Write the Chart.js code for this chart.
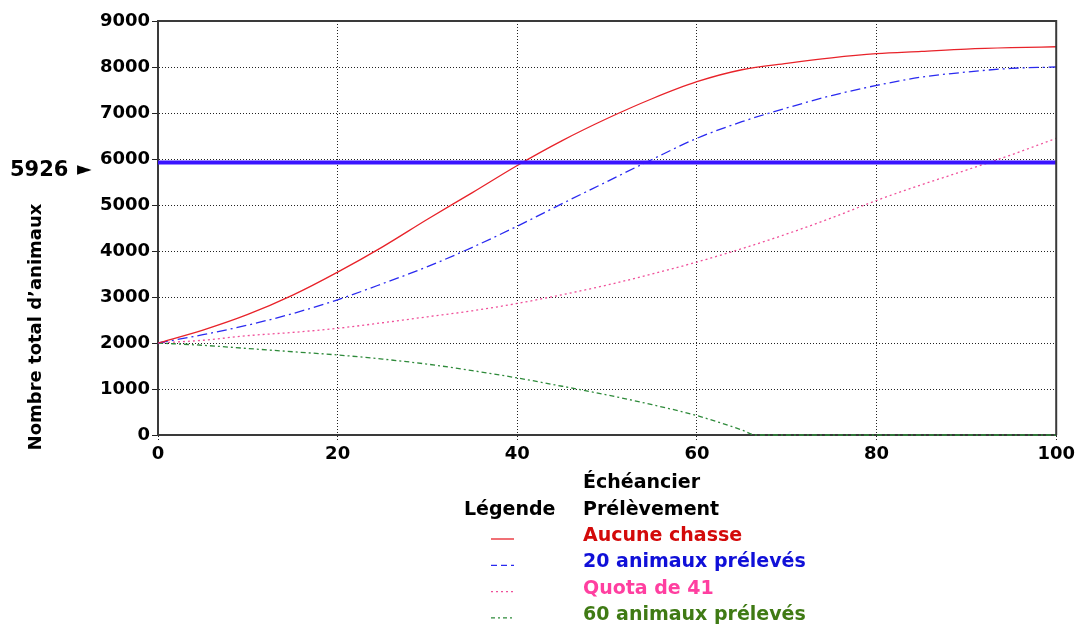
<!DOCTYPE html>
<html lang="fr">
<head>
    <meta charset="UTF-8">
    <title>Nombre total d'animaux - échéancier de prélèvement</title>
    <script src="https://cdn.jsdelivr.net/npm/chart.js@4.4.1/dist/chart.umd.min.js"></script>
    <style>
        html, body { margin: 0; padding: 0; background: #fff; }
        #wrap { width: 1078px; height: 628px; }
    </style>
</head>
<body>
    <div id="wrap">
        <canvas id="popChart" width="1078" height="628"></canvas>
    </div>

    <script>
        // values
        const years = [0, 5, 10, 15, 20, 25, 30, 35, 40, 45, 50, 55, 60, 65, 70, 75, 80, 85, 90, 95, 100];
        const noHunt  = [2000, 2280, 2620, 3040, 3540, 4090, 4690, 5270, 5860, 6400, 6880, 7310, 7680, 7940, 8080, 8200, 8290, 8340, 8390, 8420, 8440];
        const take20  = [2000, 2180, 2390, 2640, 2940, 3290, 3660, 4080, 4540, 5030, 5510, 5990, 6450, 6810, 7110, 7380, 7600, 7780, 7890, 7970, 8000];
        const quota41 = [2000, 2060, 2160, 2230, 2320, 2440, 2570, 2700, 2860, 3050, 3260, 3500, 3760, 4050, 4370, 4720, 5100, 5440, 5760, 6090, 6450];
        const take60Years = [0, 5, 10, 15, 20, 25, 30, 35, 40, 45, 50, 55, 60, 65, 66.5, 70, 75, 80, 85, 90, 95, 100];
        const take60  = [2000, 1950, 1880, 1810, 1740, 1650, 1540, 1400, 1240, 1060, 870, 660, 420, 110, 0, 0, 0, 0, 0, 0, 0, 0];
        const targetLevel = 5926;

        const seriesLabels = ['Aucune chasse', '20 animaux prélevés', 'Quota de 41', '60 animaux prélevés'];
        const lineColors = ['#e8232a', '#2a2af0', '#f0509a', '#2e8a3a'];
        const textColors = ['#d30a0a', '#1010d8', '#ff3fa0', '#3f7a14'];
        const dashes = [[], [10, 4, 2, 4], [2, 3], [5, 3, 2, 3]];
        const legendDashes = [[], [6, 4], [2, 3], [4, 3, 2, 3]];

        const toPoints = (xs, ys) => xs.map((x, i) => ({ x: x, y: ys[i] }));

        const seriesData = [
            toPoints(years, noHunt),
            toPoints(years, take20),
            toPoints(years, quota41),
            toPoints(take60Years, take60)
        ];

        const datasets = seriesData.map((pts, i) => ({
            label: seriesLabels[i],
            data: pts,
            borderColor: lineColors[i],
            borderDash: dashes[i],
            borderWidth: 1.3,
            pointRadius: 0,
            cubicInterpolationMode: 'monotone',
            fill: false,
            clip: 3,
            order: 1
        }));

        // thick target line
        datasets.push({
            label: 'target',
            data: [{ x: 0, y: targetLevel }, { x: 100, y: targetLevel }],
            borderColor: '#3a14ff',
            borderDash: [],
            borderWidth: 4,
            pointRadius: 0,
            fill: false,
            order: 0
        });

        const overlay = {
            id: 'overlay',
            afterDraw(chart) {
                const ctx = chart.ctx;
                const a = chart.chartArea;
                const yScale = chart.scales.y;
                ctx.save();

                // top and right edges of the plot frame
                ctx.strokeStyle = '#3a3a3a';
                ctx.lineWidth = 2;
                ctx.setLineDash([]);
                ctx.beginPath();
                ctx.moveTo(a.left, a.top);
                ctx.lineTo(a.right, a.top);
                ctx.lineTo(a.right, a.bottom);
                ctx.stroke();

                // y axis title
                ctx.fillStyle = '#000';
                ctx.font = 'bold 18px "DejaVu Sans"';
                ctx.textAlign = 'center';
                ctx.textBaseline = 'middle';
                ctx.translate(36, 327);
                ctx.rotate(-Math.PI / 2);
                ctx.fillText("Nombre total d\u2019animaux", 0, 0);
                ctx.setTransform(1, 0, 0, 1, 0, 0);

                // target value marker
                const yT = yScale.getPixelForValue(targetLevel);
                ctx.textAlign = 'left';
                ctx.font = 'bold 21px "DejaVu Sans"';
                ctx.fillText(String(targetLevel), 10, yT + 8);
                ctx.font = 'bold 19px "DejaVu Sans"';
                ctx.fillText('\u25BA', 77, yT + 8);

                // legend
                ctx.font = 'bold 19px "DejaVu Sans"';
                ctx.fillStyle = '#000';
                ctx.fillText('Échéancier', 583, 483);
                ctx.fillText('Prélèvement', 583, 510);
                ctx.fillText('Légende', 464, 510);

                for (let i = 0; i < seriesLabels.length; i++) {
                    const y = 536 + i * 26.3;
                    ctx.strokeStyle = lineColors[i];
                    ctx.lineWidth = 1.3;
                    ctx.setLineDash(legendDashes[i]);
                    ctx.beginPath();
                    ctx.moveTo(491, y + 3);
                    ctx.lineTo(514, y + 3);
                    ctx.stroke();
                    ctx.fillStyle = textColors[i];
                    ctx.fillText(seriesLabels[i], 583, y);
                }
                ctx.restore();
            }
        };

        Chart.defaults.font.family = '"DejaVu Sans", sans-serif';
        Chart.defaults.font.weight = 'bold';
        Chart.defaults.color = '#000';

        new Chart(document.getElementById('popChart'), {
            type: 'line',
            data: { datasets: datasets },
            plugins: [overlay],
            options: {
                responsive: false,
                animation: false,
                layout: { padding: { left: 0, top: 21, right: 20, bottom: 0 } },
                plugins: {
                    legend: { display: false },
                    tooltip: { enabled: false }
                },
                scales: {
                    x: {
                        type: 'linear',
                        min: 0,
                        max: 100,
                        afterFit: scale => { scale.height = 193; },
                        ticks: { stepSize: 20, padding: 3, font: { size: 18, weight: 'bold' }, color: '#000', maxRotation: 0,
                                 callback: v => String(v) },
                        grid: { color: '#222', lineWidth: 1, tickLength: 6, tickBorderDash: [1, 2] },
                        border: { display: true, color: '#3a3a3a', width: 2, dash: [1, 2] }
                    },
                    y: {
                        min: 0,
                        max: 9000,
                        afterFit: scale => { scale.width = 158; },
                        ticks: { stepSize: 1000, padding: 2, font: { size: 18, weight: 'bold' }, color: '#000',
                                 callback: v => String(v) },
                        grid: { color: '#222', lineWidth: 1, tickLength: 6, tickBorderDash: [] },
                        border: { display: true, color: '#3a3a3a', width: 2, dash: [1, 2] }
                    }
                }
            }
        });
    </script>
</body>
</html>
